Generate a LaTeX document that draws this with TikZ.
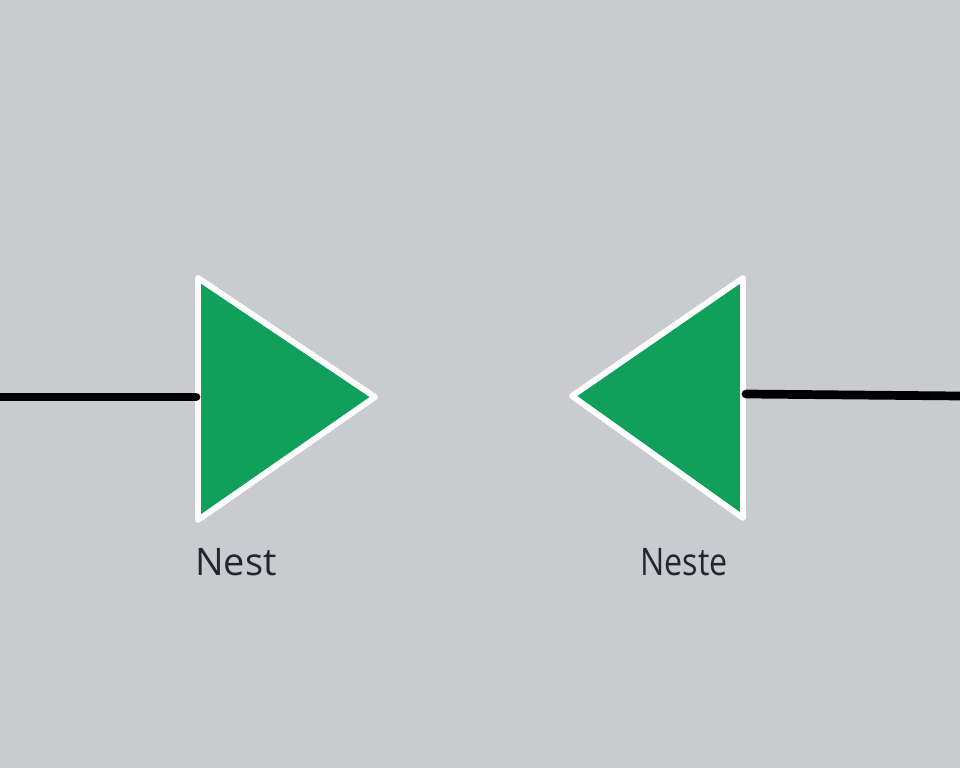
\documentclass[tikz,border=0pt]{standalone}
\usepackage{fontspec}
\setmainfont{Open Sans}
\usepackage{xcolor}
\usetikzlibrary{positioning}

\definecolor{bggray}{RGB}{201,203,206}
\definecolor{valvegreen}{RGB}{17,160,92}
\definecolor{labelink}{RGB}{34,38,46}

\tikzset{
	valve/.style={fill=valvegreen, draw=white, line width=4.2pt, line join=round},
	pipe/.style={black, line width=6.2pt, line cap=round},
	tag/.style={text=labelink, font=\fontsize{27}{30}\selectfont, inner sep=0pt}
}

\begin{document}
\begin{tikzpicture}
	\fill[bggray] (0, 0) rectangle (24, 19.2);
	\useasboundingbox (0, 0) rectangle (24, 19.2);

	% left valve, pointing right
	\draw[valve] (4.95, 12.25) -- (9.375, 9.275) -- (4.95, 6.2) -- cycle;
	% right valve, pointing left
	\draw[valve] (18.575, 12.25) -- (14.3, 9.3) -- (18.575, 6.25) -- cycle;

	\coordinate (leftin) at (4.9, 9.275);
	\coordinate (leftend) at (0, 9.275);
	\coordinate (rightin) at (18.65, 9.35);
	\coordinate (rightend) at (24, 9.3);

	\draw[pipe] (leftend) -- (leftin);
	\draw[pipe] (rightin) -- (rightend);

	\node[tag] (nest) at (5.9, 5.15) {Nest};
	\node[tag, xscale=0.85] (neste) at (17.1, 5.15) {Neste};
\end{tikzpicture}
\end{document}
